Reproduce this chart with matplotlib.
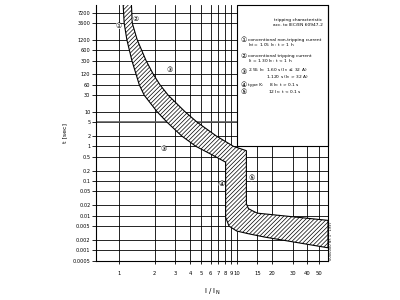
import matplotlib
matplotlib.use("Agg")
import matplotlib.pyplot as plt
from matplotlib.patches import Polygon, Rectangle

plt.rcParams["hatch.linewidth"] = 0.5

# axis ticks
X_TICKS = [1, 2, 3, 4, 5, 6, 7, 8, 9, 10, 15, 20, 30, 40, 50]
Y_TICKS = [7200, 3600, 1200, 600, 300, 120, 60, 30, 10, 5, 2, 1, 0.5, 0.2,
           0.1, 0.05, 0.02, 0.01, 0.005, 0.002, 0.001, 0.0005]
Y_LABELS = ["7200", "3600", "1200", "600", "300", "120", "60", "30", "10",
            "5", "2", "1", "0.5", "0.2", "0.1", "0.05", "0.02", "0.01",
            "0.005", "0.002", "0.001", "0.0005"]

# tripping band: lower-current boundary (top -> bottom right)
LOW_X = [1.07, 1.10, 1.16, 1.28, 1.48, 1.63, 2.1, 2.55, 3.4, 4.5, 6.0,
         8.05, 8.05, 8.6, 10.0, 12.6, 17.4, 60]
LOW_T = [20000, 3600, 1200, 300, 60, 30, 10, 5, 2, 1, 0.6,
         0.35, 0.009, 0.005, 0.0036, 0.003, 0.0024, 0.00118]
# upper-current boundary
HIGH_X = [1.26, 1.29, 1.42, 1.69, 1.95, 2.22, 2.61, 3.63, 4.6, 6.7, 9.4,
          12.1, 12.1, 12.6, 13.4, 15.0, 60]
HIGH_T = [20000, 3600, 1200, 300, 120, 60, 30, 10, 5, 2, 1,
          0.75, 0.022, 0.016, 0.0142, 0.0118, 0.0073]

# circled reference markers on the chart
MARK_ID = ["1", "2", "3", "3", "4", "5"]
MARK_X = [0.98, 1.38, 2.70, 2.37, 7.45, 13.4]
MARK_T = [3000, 4700, 157, 0.86, 0.08, 0.121]

CIRC = {"1": "\u2460", "2": "\u2461", "3": "\u2462", "4": "\u2463", "5": "\u2464"}
FAM = ["DejaVu Sans", "Noto Sans CJK JP"]

fig = plt.figure(figsize=(4, 3), dpi=100)
ax = fig.add_axes([0.24, 0.131, 0.58, 0.852])
ax.set_xscale("log")
ax.set_yscale("log")
ax.set_xlim(0.633, 60)
ax.set_ylim(0.0005, 12000)

ax.set_xticks(X_TICKS)
ax.set_xticklabels([str(v) for v in X_TICKS], fontsize=3.8)
ax.set_yticks(Y_TICKS)
ax.set_yticklabels(Y_LABELS, fontsize=3.6)
ax.minorticks_off()
ax.tick_params(axis="y", length=3, width=0.6, pad=1)
ax.tick_params(axis="x", length=2.5, width=0.6, pad=5)
ax.grid(True, color="black", linewidth=0.6, zorder=0.5)
ax.set_axisbelow(True)
ax.axhline(5, color="#555555", linewidth=1.1, zorder=0.6)

for s in ("left", "right", "bottom"):
    ax.spines[s].set_linewidth(0.8)
ax.spines["top"].set_visible(False)

band = list(zip(LOW_X, LOW_T)) + list(zip(HIGH_X, HIGH_T))[::-1]
ax.add_patch(Polygon(band, closed=True, facecolor="white", edgecolor="black",
                     hatch="////////", linewidth=0.8, zorder=3))

# legend box in the upper right corner
ax.add_patch(Rectangle((10.1, 1), 60 - 10.1, 12000 - 1, facecolor="white",
                       edgecolor="black", linewidth=0.8, zorder=2,
                       clip_on=False))

for m, x, t in zip(MARK_ID, MARK_X, MARK_T):
    ax.text(x, t, CIRC[m], fontsize=5, ha="center", va="center",
            family=FAM, zorder=4,
            bbox=dict(boxstyle="circle,pad=0.0", facecolor="white",
                      edgecolor="none"))

ax.set_ylabel("t [sec]", fontsize=4.5, labelpad=2)
ax.yaxis.set_label_coords(-0.125, 0.5)
ax.set_xlabel(r"I / I$_{\rm N}$", fontsize=5, labelpad=8)


def ft(px, py, s, size=3.2, ha="left"):
    fig.text(px / 400, 1 - py / 300, s, fontsize=size, ha=ha, va="center",
             family=FAM)


ft(298, 20, "tripping characteristic", ha="center")
ft(298, 25, "acc. to IEC/EN 60947-2", ha="center")
ft(243.5, 40, CIRC["1"], size=5, ha="center")
ft(247.5, 39.5, "conventional non-tripping current")
ft(248.5, 45.5, r"I$_{\rm nt}$ = 1.05 I$_{\rm n}$ : t > 1 h")
ft(243.5, 56, CIRC["2"], size=5, ha="center")
ft(248, 55.5, "conventional tripping current")
ft(248.5, 61.5, r"I$_{\rm t}$ = 1.30 I$_{\rm n}$ : t < 1 h")
ft(243.5, 72.5, CIRC["3"], size=5, ha="center")
ft(248.5, 70, r"2.55 I$_{\rm n}$:")
ft(266, 70.5, r"1-60 s (I$_{\rm n}$ $\leq$ 32 A)")
ft(266, 77, r"1-120 s (I$_{\rm n}$ > 32 A)")
ft(243.5, 85, CIRC["4"], size=5, ha="center")
ft(248.5, 85, "type K:")
ft(269, 85, r"8 I$_{\rm n}$: t > 0.1 s")
ft(243.5, 92, CIRC["5"], size=5, ha="center")
ft(268.5, 92, r"12 I$_{\rm n}$: t < 0.1 s")

fig.text(331 / 400, 1 - 241 / 300, "0000000 Nr. 1 \u00b7 1997", fontsize=2.6,
         rotation=90, ha="center", va="center")

fig.savefig("out.png", dpi=100)
